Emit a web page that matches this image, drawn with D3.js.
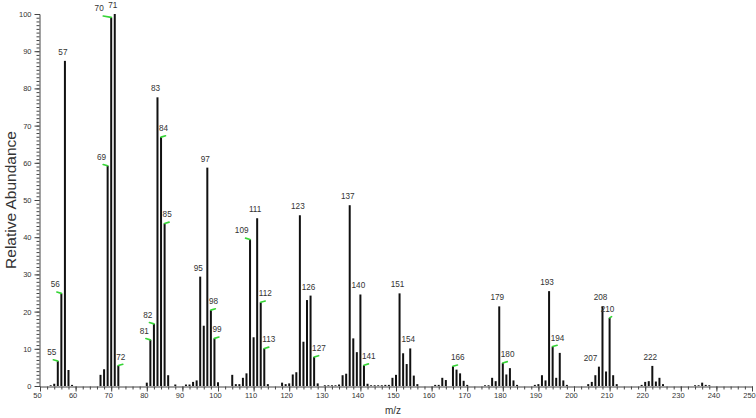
<!DOCTYPE html>
<html>
<head>
<meta charset="utf-8">
<script src="https://cdn.jsdelivr.net/npm/d3@7"></script>
<style>
  html, body { margin: 0; padding: 0; background: #fff; }
  svg { display: block; }
  text { font-family: "Liberation Sans", Arial, sans-serif; fill: #333; }
</style>
</head>
<body>
<svg id="chart" width="756" height="418"></svg>
<script>
// ---- data ----
const mzValues = [53,54,55,56,57,58,59,
  67,68,69,70,71,72,
  80,81,82,83,84,85,86,88,
  91,92,93,94,95,96,97,98,99,100,
  104,105,106,107,108,109,110,111,112,113,114,
  118,119,120,121,122,123,124,125,126,127,128,
  130,131,132,133,134,135,136,137,138,139,140,141,142,
  143,144,145,146,147,148,149,150,151,152,153,154,155,156,
  161,162,163,164,166,167,168,169,170,
  175,176,177,178,179,180,181,182,183,184,
  189,190,191,192,193,194,195,196,197,198,
  204,205,206,207,208,209,210,211,212,
  219,220,221,222,223,224,225,
  234,235,236,237,238];
const abundance = [0.2,0.6,6.7,24.9,87.4,4.3,0.3,
  3.0,4.5,59.2,99.1,100,5.5,
  0.9,12.4,16.7,77.6,66.9,43.7,2.9,0.4,
  0.4,0.4,1.1,1.5,29.4,16.2,58.7,20.4,12.8,1.0,
  3.0,0.5,0.5,2.2,3.4,39.4,13.1,45.1,22.5,10.1,0.5,
  0.9,0.5,0.7,3.1,3.7,45.9,11.9,23.1,24.3,7.8,0.7,
  0.2,0.2,0.2,0.2,0.4,2.9,3.3,48.6,12.8,9.1,24.6,5.6,0.6,
  0.2,0.2,0.2,0.2,0.3,0.3,2.2,3.0,24.9,8.8,5.9,10.1,2.8,0.5,
  0.3,0.3,2.2,1.6,5.3,4.4,3.4,1.4,0.3,
  0.2,0.2,2.2,1.3,21.4,6.2,3.1,4.8,1.5,0.3,
  0.3,0.5,2.9,1.5,25.5,10.6,2.2,8.9,1.5,0.3,
  0.5,1.1,2.9,5.2,21.4,3.9,18.3,2.9,0.5,
  0.3,1.1,1.3,5.4,1.2,2.2,0.5,
  0.2,0.2,0.9,0.3,0.2];

// labelled peaks, grouped by where the label sits
const labelsCentered = [57,71,83,95,97,111,123,126,137,140,151,154,179,193,208,210,222];
const labelsLeft = [55,56,69,70,81,82,109,207];
const labelsRight = [72,84,85,98,99,112,113,127,141,166,180,194];
// peaks carrying a green marker
const markedLeft = [55,56,69,70,81,82,109];
const markedRight = [72,84,85,98,99,112,113,127,141,166,180,194,210];

const xMajorTicks = d3.range(50, 251, 10);
const xMinorTicks = d3.range(50, 251, 2);
const yMajorTicks = d3.range(0, 101, 10);
const yMinorTicks = d3.range(0, 101, 1);

// ---- drawing ----
const svg = d3.select("#chart");
const x = d3.scaleLinear().domain([50, 250]).range([40, 752]);
const y = d3.scaleLinear().domain([0, 100]).range([386, 14]);
const peaks = mzValues.map((m, i) => ({ mz: m, v: abundance[i] }));
const val = m => abundance[mzValues.indexOf(m)];

const axisColor = "#444";

// x axis minor
svg.append("g").attr("transform", "translate(0,386.5)")
  .call(d3.axisBottom(x).tickValues(xMinorTicks).tickSize(3).tickFormat(""))
  .call(g => g.select(".domain").attr("stroke", axisColor))
  .call(g => g.selectAll(".tick line").attr("stroke", axisColor));
// x axis major
svg.append("g").attr("transform", "translate(0,386.5)")
  .call(d3.axisBottom(x).tickValues(xMajorTicks).tickSize(5).tickPadding(1).tickFormat(d3.format("d")))
  .call(g => g.select(".domain").remove())
  .call(g => g.selectAll(".tick line").attr("stroke", axisColor))
  .call(g => g.selectAll(".tick text").attr("font-size", 7.5).attr("fill", "#333").attr("dx", -3)
      .attr("font-family", "Liberation Sans, Arial, sans-serif"));

// y axis minor
svg.append("g").attr("transform", "translate(39.5,0)")
  .call(d3.axisLeft(y).tickValues(yMinorTicks).tickSize(3).tickFormat(""))
  .call(g => g.select(".domain").attr("stroke", axisColor))
  .call(g => g.selectAll(".tick line").attr("stroke", axisColor));
// y axis major
svg.append("g").attr("transform", "translate(39.5,0)")
  .call(d3.axisLeft(y).tickValues(yMajorTicks).tickSize(5).tickPadding(3).tickFormat(d3.format("d")))
  .call(g => g.select(".domain").remove())
  .call(g => g.selectAll(".tick line").attr("stroke", axisColor))
  .call(g => g.selectAll(".tick text").attr("font-size", 7.5).attr("fill", "#333")
      .attr("font-family", "Liberation Sans, Arial, sans-serif"));

// bars
svg.append("g").selectAll("rect").data(peaks).join("rect")
  .attr("x", d => x(d.mz) - 1)
  .attr("width", 2)
  .attr("y", d => y(d.v))
  .attr("height", d => y(0) - y(d.v))
  .attr("fill", "#111");

// green markers
const mk = svg.append("g").attr("stroke", "#36d536").attr("stroke-width", 1.6).attr("stroke-linecap", "round");
markedLeft.forEach(m => {
  const len = m === 70 ? 8 : 4.5;
  mk.append("line").attr("x1", x(m) - len).attr("y1", y(val(m)) - 1.3)
    .attr("x2", x(m)).attr("y2", y(val(m)));
});
markedRight.forEach(m => {
  const len = m === 210 ? 2 : 4.5;
  mk.append("line").attr("x1", x(m)).attr("y1", y(val(m)))
    .attr("x2", x(m) + len).attr("y2", y(val(m)) - 1.3);
});

// peak labels
const lg = svg.append("g").attr("font-size", 8.2);
labelsCentered.forEach(m => {
  lg.append("text").attr("x", x(m) - 2).attr("y", y(val(m)) - 6)
    .attr("text-anchor", "middle").text(m);
});
labelsLeft.forEach(m => {
  const off = m === 70 ? 7.5 : 1.5;
  lg.append("text").attr("x", x(m) - off).attr("y", y(val(m)) - 6)
    .attr("text-anchor", "end").text(m);
});
labelsRight.forEach(m => {
  lg.append("text").attr("x", x(m) - 2).attr("y", y(val(m)) - 6)
    .attr("text-anchor", "start").text(m);
});

// axis titles
svg.append("text").attr("transform", "translate(16,200) rotate(-90)")
  .attr("text-anchor", "middle").attr("font-size", 15.5).attr("fill", "#222")
  .text("Relative Abundance");
svg.append("text").attr("x", 393).attr("y", 414)
  .attr("text-anchor", "middle").attr("font-size", 10).attr("fill", "#222")
  .text("m/z");
</script>
</body>
</html>
